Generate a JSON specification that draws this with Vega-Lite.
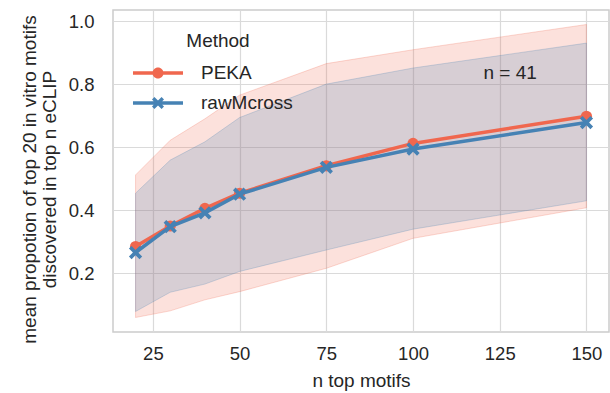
{
  "$schema": "https://vega.github.io/schema/vega-lite/v6.json",
  "width": 496,
  "height": 322,
  "autosize": {"type": "none"},
  "padding": {"left": 113, "top": 10, "right": 1, "bottom": 61},
  "background": "white",
  "config": {
    "font": "Liberation Sans",
    "view": {"stroke": "#cccccc", "strokeWidth": 1.5},
    "axis": {
      "domain": false,
      "ticks": false,
      "tickSize": 0,
      "gridColor": "#dadada",
      "gridWidth": 1.2,
      "labelFontSize": 18.5,
      "labelColor": "#262626",
      "titleFontSize": 19,
      "titleFontWeight": "normal",
      "titleColor": "#262626"
    }
  },
  "data": {
    "values": [
      {"n": 20, "Method": "PEKA", "mean": 0.285, "lo": 0.060, "hi": 0.512},
      {"n": 30, "Method": "PEKA", "mean": 0.350, "lo": 0.081, "hi": 0.622},
      {"n": 40, "Method": "PEKA", "mean": 0.406, "lo": 0.116, "hi": 0.690},
      {"n": 50, "Method": "PEKA", "mean": 0.454, "lo": 0.142, "hi": 0.765},
      {"n": 75, "Method": "PEKA", "mean": 0.541, "lo": 0.216, "hi": 0.865},
      {"n": 100, "Method": "PEKA", "mean": 0.612, "lo": 0.311, "hi": 0.909},
      {"n": 150, "Method": "PEKA", "mean": 0.698, "lo": 0.408, "hi": 0.989},
      {"n": 20, "Method": "rawMcross", "mean": 0.266, "lo": 0.079, "hi": 0.454},
      {"n": 30, "Method": "rawMcross", "mean": 0.348, "lo": 0.140, "hi": 0.559},
      {"n": 40, "Method": "rawMcross", "mean": 0.392, "lo": 0.166, "hi": 0.617},
      {"n": 50, "Method": "rawMcross", "mean": 0.451, "lo": 0.206, "hi": 0.694},
      {"n": 75, "Method": "rawMcross", "mean": 0.536, "lo": 0.274, "hi": 0.800},
      {"n": 100, "Method": "rawMcross", "mean": 0.594, "lo": 0.340, "hi": 0.851},
      {"n": 150, "Method": "rawMcross", "mean": 0.678, "lo": 0.430, "hi": 0.930}
    ]
  },
  "encoding": {
    "x": {
      "field": "n", "type": "quantitative",
      "scale": {"domain": [13.5, 156.5], "nice": false, "zero": false},
      "axis": {"values": [25, 50, 75, 100, 125, 150], "title": "n top motifs", "labelPadding": 12, "titlePadding": 9}
    }
  },
  "layer": [
    {
      "transform": [{"filter": "datum.Method === 'PEKA'"}],
      "mark": {"type": "area", "fill": "#f0674e", "fillOpacity": 0.2, "stroke": "#f0674e", "strokeOpacity": 0.25, "strokeWidth": 1},
      "encoding": {
        "y": {
          "field": "lo", "type": "quantitative",
          "scale": {"domain": [0.014, 1.035], "nice": false, "zero": false},
          "axis": {
            "values": [0.2, 0.4, 0.6, 0.8, 1.0], "format": ".1f",
            "title": ["mean propotion of top 20 in vitro motifs", "discovered in top n eCLIP"],
            "labelPadding": 19, "titlePadding": 9, "titleLineHeight": 20, "titleY": 169
          }
        },
        "y2": {"field": "hi"}
      }
    },
    {
      "transform": [{"filter": "datum.Method === 'rawMcross'"}],
      "mark": {"type": "area", "fill": "#4682b4", "fillOpacity": 0.2, "stroke": "#4682b4", "strokeOpacity": 0.25, "strokeWidth": 1},
      "encoding": {
        "y": {"field": "lo", "type": "quantitative"},
        "y2": {"field": "hi"}
      }
    },
    {
      "transform": [{"filter": "datum.Method === 'PEKA'"}],
      "mark": {"type": "line", "stroke": "#f0674e", "strokeWidth": 3.5},
      "encoding": {"y": {"field": "mean", "type": "quantitative"}}
    },
    {
      "transform": [{"filter": "datum.Method === 'PEKA'"}],
      "mark": {"type": "point", "shape": "circle", "filled": true, "color": "#f0674e", "opacity": 1, "size": 125, "strokeWidth": 0},
      "encoding": {"y": {"field": "mean", "type": "quantitative"}}
    },
    {
      "transform": [{"filter": "datum.Method === 'rawMcross'"}],
      "mark": {"type": "line", "stroke": "#4682b4", "strokeWidth": 3.5},
      "encoding": {"y": {"field": "mean", "type": "quantitative"}}
    },
    {
      "transform": [{"filter": "datum.Method === 'rawMcross'"}],
      "mark": {"type": "point", "shape": "M-1,-0.6L-0.6,-1L0,-0.4L0.6,-1L1,-0.6L0.4,0L1,0.6L0.6,1L0,0.4L-0.6,1L-1,0.6L-0.4,0Z", "filled": true, "color": "#4682b4", "opacity": 1, "size": 175, "strokeWidth": 0},
      "encoding": {"y": {"field": "mean", "type": "quantitative"}}
    },
    {
      "transform": [{"filter": "datum.n < 0"}],
      "mark": {"type": "point", "filled": true, "opacity": 1, "strokeWidth": 0},
      "encoding": {
        "y": {"field": "mean", "type": "quantitative"},
        "color": {
          "field": "Method", "type": "nominal",
          "scale": {"domain": ["PEKA", "rawMcross"], "range": ["#f0674e", "#4682b4"]},
          "legend": {
            "orient": "none", "legendX": 30, "legendY": 22,
            "title": "Method", "titleAnchor": "middle", "titleFontSize": 19, "titleFontWeight": "normal", "titleColor": "#262626", "titlePadding": 7,
            "labelFontSize": 19, "labelColor": "#262626", "labelOffset": 28,
            "symbolSize": 900, "symbolStrokeWidth": 0, "symbolOpacity": 1, "rowPadding": 5, "padding": 0
          }
        },
        "shape": {
          "field": "Method", "type": "nominal",
          "scale": {"domain": ["PEKA", "rawMcross"], "range": [
            "M-1.667,-0.117H1.667V0.117H-1.667Z M0.37,0A0.37,0.37 0 1,1 -0.37,0A0.37,0.37 0 1,1 0.37,0Z",
            "M-1.667,-0.117H1.667V0.117H-1.667Z M-0.4,-0.24L-0.24,-0.4L0,-0.16L0.24,-0.4L0.4,-0.24L0.16,0L0.4,0.24L0.24,0.4L0,0.16L-0.24,0.4L-0.4,0.24L-0.16,0Z"
          ]}
        }
      }
    },
    {
      "data": {"values": [{"n": 128, "y": 0.835, "label": "n = 41"}]},
      "mark": {"type": "text", "fontSize": 19, "color": "#262626", "align": "center", "baseline": "middle"},
      "encoding": {
        "y": {"field": "y", "type": "quantitative"},
        "text": {"field": "label"}
      }
    }
  ]
}
